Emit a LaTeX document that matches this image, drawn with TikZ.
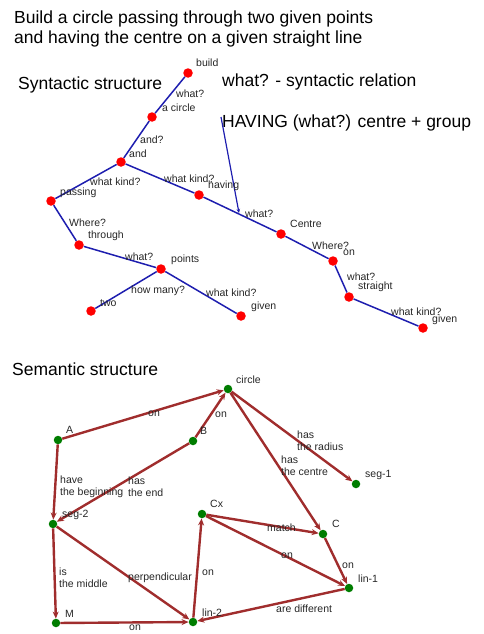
\documentclass[tikz,border=0pt]{standalone}
\usepackage{fontspec}
\setmainfont{Liberation Sans}
\usetikzlibrary{arrows.meta}
\definecolor{synblue}{RGB}{30,30,175}
\definecolor{semred}{RGB}{160,45,45}
\definecolor{semgreen}{RGB}{0,125,0}
\begin{document}
\begin{tikzpicture}[x=1pt, y=-1pt,
    rdot/.style={circle, fill=red, inner sep=0pt, minimum size=9.5pt},
    gdot/.style={circle, fill=semgreen, inner sep=0pt, minimum size=8.5pt},
    txt/.style={anchor=west, inner sep=0pt, font=\fontsize{10.5}{12}\selectfont, text=black!85, align=left},
    big/.style={anchor=west, inner sep=0pt, font=\fontsize{17.5}{19.5}\selectfont, align=left},
    syn/.style={draw=synblue, line width=1.5pt},
    sem/.style={draw=semred, line width=2.4pt, -{Stealth[length=7pt, width=6pt]}}]
    \useasboundingbox (0,0) rectangle (483,634);

    % headings
    \node[big] (title) at (14, 29) {Build a circle passing through two given points\\and having the centre on a given straight line};
    \node[big] (synhead) at (18, 85) {Syntactic structure};
    \node[big] (relnote) at (222, 82) {what? - syntactic relation};
    \node[big] (havnote) at (222, 123) {HAVING (what?) centre + group};
    \node[big] (semhead) at (12, 369) {Semantic structure};

    % syntactic tree
    \node[rdot] (build) at (188, 73) {};
    \node[rdot] (acircle) at (152, 117) {};
    \node[rdot] (and) at (121, 162) {};
    \node[rdot] (passing) at (51, 201) {};
    \node[rdot] (having) at (199, 195) {};
    \node[rdot] (through) at (79, 245) {};
    \node[rdot] (points) at (161, 269) {};
    \node[rdot] (two) at (91, 311) {};
    \node[rdot] (given) at (241, 316) {};
    \node[rdot] (centre) at (281, 234) {};
    \node[rdot] (on) at (333, 261) {};
    \node[rdot] (straight) at (349, 297) {};
    \node[rdot] (givenb) at (423, 328) {};
    \coordinate (havtip) at (239, 213);

    \draw[syn] (build) -- (acircle);
    \draw[syn] (acircle) -- (and);
    \draw[syn] (and) -- (passing);
    \draw[syn] (and) -- (having);
    \draw[syn] (having) -- (centre);
    \draw[syn] (centre) -- (on);
    \draw[syn] (on) -- (straight);
    \draw[syn] (straight) -- (givenb);
    \draw[syn] (passing) -- (through);
    \draw[syn] (through) -- (points);
    \draw[syn] (points) -- (two);
    \draw[syn] (points) -- (given);
    \draw[draw=synblue, line width=1.2pt, -{Stealth[length=4pt, width=3.5pt]}] (221, 117) -- (havtip);

    \node[txt] (lbuild) at (196, 63) {build};
    \node[txt] (q1) at (176, 94) {what?};
    \node[txt] (lacircle) at (162, 108) {a circle};
    \node[txt] (q2) at (140, 140) {and?};
    \node[txt] (land) at (129, 154) {and};
    \node[txt] (q3) at (90, 182) {what kind?};
    \node[txt] (lpassing) at (60, 193) {passing};
    \node[txt] (q4) at (164, 179) {what kind?};
    \node[txt] (lhaving) at (208, 186) {having};
    \node[txt] (q5) at (245, 214) {what?};
    \node[txt] (lcentre) at (290, 224) {Centre};
    \node[txt] (q6) at (312, 246) {Where?};
    \node[txt] (lon) at (343, 253) {on};
    \node[txt] (q7) at (347, 277) {what?};
    \node[txt] (lstraight) at (358, 287) {straight};
    \node[txt] (q8) at (391, 312) {what kind?};
    \node[txt] (lgivenb) at (432, 320) {given};
    \node[txt] (q9) at (69, 223) {Where?};
    \node[txt] (lthrough) at (88, 236) {through};
    \node[txt] (q10) at (125, 257) {what?};
    \node[txt] (lpoints) at (171, 260) {points};
    \node[txt] (q11) at (131, 291) {how many?};
    \node[txt] (ltwo) at (100, 303) {two};
    \node[txt] (q12) at (206, 293) {what kind?};
    \node[txt] (lgiven) at (251, 307) {given};

    % semantic graph
    \node[gdot] (circle) at (228, 389) {};
    \node[gdot] (A) at (58, 440) {};
    \node[gdot] (B) at (193, 441) {};
    \node[gdot] (seg1) at (356, 484) {};
    \node[gdot] (seg2) at (53, 524) {};
    \node[gdot] (Cx) at (202, 514) {};
    \node[gdot] (C) at (323, 534) {};
    \node[gdot] (lin1) at (349, 588) {};
    \node[gdot] (M) at (56, 623) {};
    \node[gdot] (lin2) at (193, 622) {};

    \draw[sem] (A) -- (circle);
    \draw[sem] (B) -- (circle);
    \draw[sem] (circle) -- (seg1);
    \draw[sem] (circle) -- (C);
    \draw[sem] (A) -- (seg2);
    \draw[sem] (B) -- (seg2);
    \draw[sem] (seg2) -- (M);
    \draw[sem] (seg2) -- (lin2);
    \draw[sem] (M) -- (lin2);
    \draw[sem] (lin2) -- (Cx);
    \draw[sem] (Cx) -- (C);
    \draw[sem] (Cx) -- (lin1);
    \draw[sem] (C) -- (lin1);
    \draw[sem] (lin1) -- (lin2);

    \node[txt] (lcircle) at (236, 380) {circle};
    \node[txt] (lA) at (66, 430) {A};
    \node[txt] (lB) at (200, 431) {B};
    \node[txt] (r1) at (148, 414) {on};
    \node[txt] (r2) at (215, 415) {on};
    \node[txt] (r3) at (297, 441) {has\\the radius};
    \node[txt] (r4) at (281, 466) {has\\the centre};
    \node[txt] (lseg1) at (365, 475) {seg-1};
    \node[txt] (r5) at (60, 487) {have\\the beginning};
    \node[txt] (r6) at (128, 487) {has\\the end};
    \node[txt] (lCx) at (210, 504) {Cx};
    \node[txt] (lseg2) at (62, 515) {seg-2};
    \node[txt] (r7) at (59, 578) {is\\the middle};
    \node[txt] (r8) at (128, 578) {perpendicular};
    \node[txt] (r9) at (202, 573) {on};
    \node[txt] (lM) at (65, 614) {M};
    \node[txt] (llin2) at (202, 613) {lin-2};
    \node[txt] (r10) at (129, 628) {on};
    \node[txt] (r11) at (267, 528) {match};
    \node[txt] (lC) at (332, 524) {C};
    \node[txt] (r12) at (281, 556) {on};
    \node[txt] (r13) at (342, 566) {on};
    \node[txt] (llin1) at (358, 579) {lin-1};
    \node[txt] (r14) at (276, 609) {are different};
\end{tikzpicture}
\end{document}
